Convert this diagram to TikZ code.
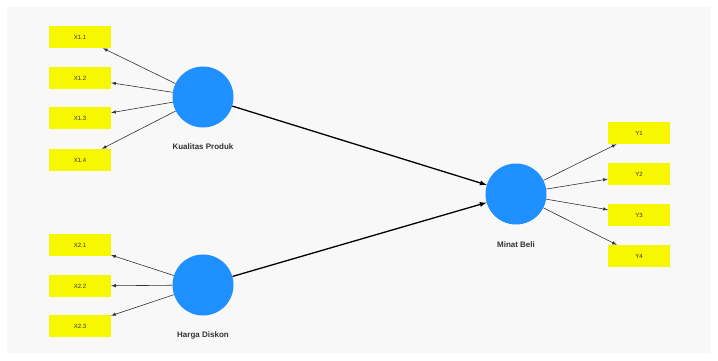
\documentclass[tikz,border=0pt]{standalone}
\usepackage{fontspec}
\setmainfont{Liberation Sans}
\usepackage{xcolor}
\usepackage{tikz}
\usetikzlibrary{shapes, arrows, positioning, calc}

\definecolor{fundo}{HTML}{F8F8F8}
\definecolor{azul}{HTML}{1E90FF}
\definecolor{amarelo}{HTML}{F7F700}
\definecolor{texto}{HTML}{333333}

\begin{document}
\begin{tikzpicture}[
        x=1pt, y=-1pt, % 1 unidade = 1 pixel, eixo y para baixo
        indicador/.style={rectangle, fill=amarelo, minimum width=62pt, minimum height=22pt, inner sep=0pt, font=\fontsize{6}{7}\selectfont, text=texto},
        construto/.style={circle, fill=azul, minimum size=61pt, inner sep=0pt},
        rotulo/.style={font=\fontsize{8}{9}\selectfont\bfseries, text=texto},
        seta/.style={->, >=latex, line width=0.6pt, color=black!80},
        caminho/.style={->, >=latex, line width=1.3pt, color=black}
        ]

        % Fundo
        \useasboundingbox (0,0) rectangle (718,360);
        \fill[white] (0,0) rectangle (718,360);
        \fill[fundo] (7,7) rectangle (711,353);

        % Construtos
        \node[construto] (kp) at (203, 97) {};
        \node[construto] (hd) at (203, 285) {};
        \node[construto] (mb) at (516, 194) {};

        \node[rotulo] (lkp) at (203, 147) {Kualitas Produk};
        \node[rotulo] (lhd) at (203, 335) {Harga Diskon};
        \node[rotulo] (lmb) at (516, 245) {Minat Beli};

        % Indicadores de Kualitas Produk
        \node[indicador] (x11) at (80, 37) {X1.1};
        \node[indicador] (x12) at (80, 78) {X1.2};
        \node[indicador] (x13) at (80, 118) {X1.3};
        \node[indicador] (x14) at (80, 160) {X1.4};

        % Indicadores de Harga Diskon
        \node[indicador] (x21) at (80, 245) {X2.1};
        \node[indicador] (x22) at (80, 286) {X2.2};
        \node[indicador] (x23) at (80, 326) {X2.3};

        % Indicadores de Minat Beli
        \node[indicador] (y1) at (639, 133) {Y1};
        \node[indicador] (y2) at (639, 174) {Y2};
        \node[indicador] (y3) at (639, 215) {Y3};
        \node[indicador] (y4) at (639, 256) {Y4};

        % Cargas externas
        \foreach \x in {x11, x12, x13, x14}
            \path[seta] (kp) edge (\x);
        \foreach \x in {x21, x22, x23}
            \path[seta] (hd) edge (\x);
        \foreach \y in {y1, y2, y3, y4}
            \path[seta] (mb) edge (\y);

        % Caminhos estruturais
        \path[caminho] (kp) edge (mb);
        \path[caminho] (hd) edge (mb);

    \end{tikzpicture}
\end{document}
